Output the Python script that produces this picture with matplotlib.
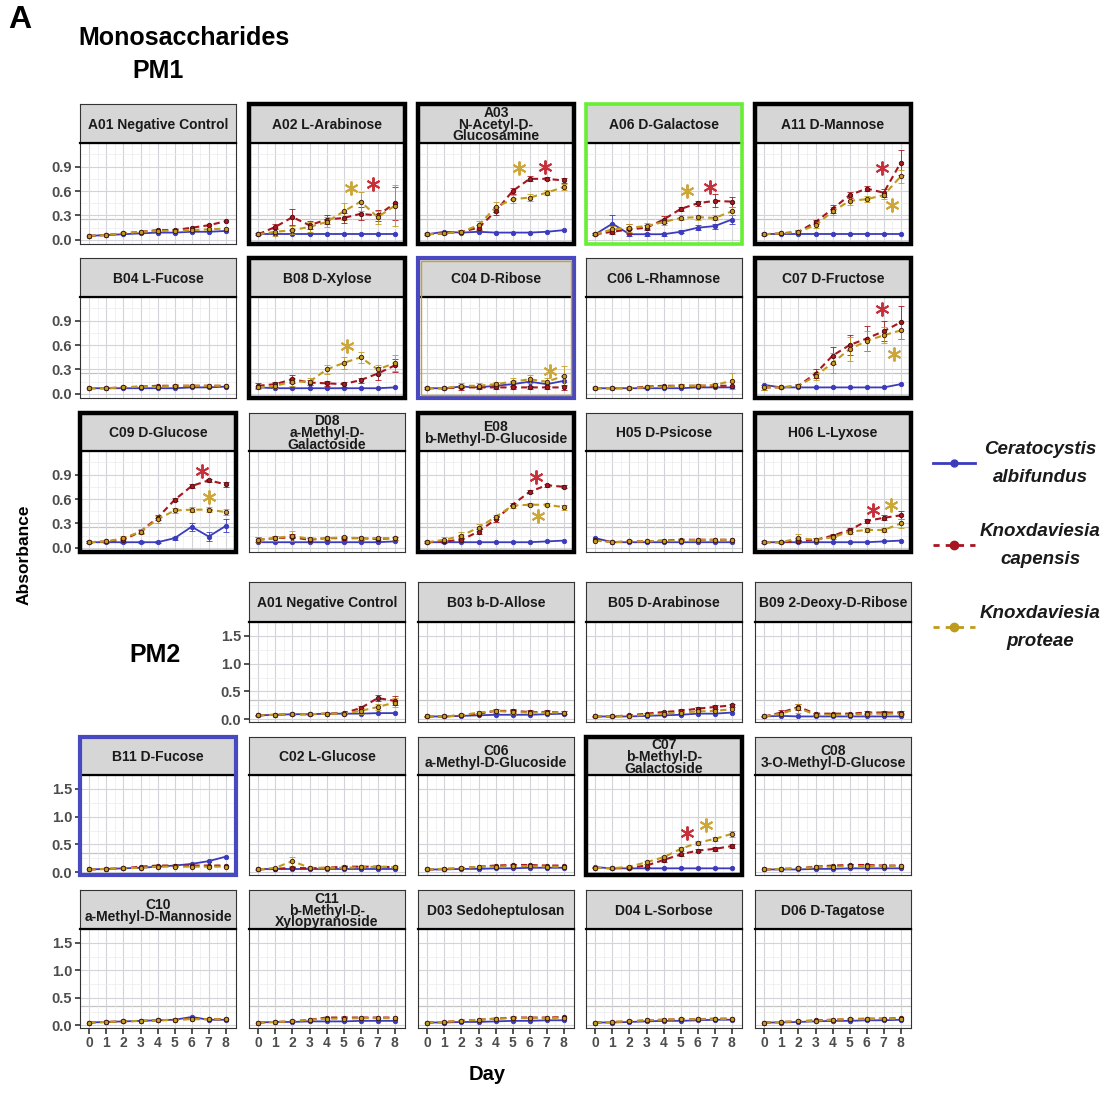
import matplotlib
matplotlib.use("Agg")
import matplotlib.pyplot as plt
from matplotlib.patches import Rectangle
from matplotlib.lines import Line2D

plt.rcParams['font.family'] = ['Liberation Sans', 'DejaVu Sans']

days = [0, 1, 2, 3, 4, 5, 6, 7, 8]

series_names = [("Ceratocystis", "albifundus"), ("Knoxdaviesia", "capensis"), ("Knoxdaviesia", "proteae")]

# ---- PM1 ----
pm1_titles = ["A01 Negative Control", "A02 L-Arabinose", "A03\nN-Acetyl-D-\nGlucosamine", "A06 D-Galactose", "A11 D-Mannose",
              "B04 L-Fucose", "B08 D-Xylose", "C04 D-Ribose", "C06 L-Rhamnose", "C07 D-Fructose",
              "C09 D-Glucose", "D08\na-Methyl-D-\nGalactoside", "E08\nb-Methyl-D-Glucoside", "H05 D-Psicose", "H06 L-Lyxose"]

pm1_ca = [[0.05, 0.06, 0.07, 0.08, 0.09, 0.09, 0.10, 0.10, 0.11],
          [0.07, 0.07, 0.07, 0.07, 0.07, 0.07, 0.07, 0.07, 0.07],
          [0.07, 0.10, 0.09, 0.10, 0.09, 0.09, 0.09, 0.10, 0.12],
          [0.07, 0.20, 0.07, 0.07, 0.07, 0.10, 0.15, 0.17, 0.25],
          [0.07, 0.07, 0.07, 0.07, 0.07, 0.07, 0.07, 0.07, 0.07],
          [0.07, 0.07, 0.07, 0.07, 0.07, 0.07, 0.08, 0.08, 0.09],
          [0.08, 0.07, 0.07, 0.07, 0.07, 0.07, 0.07, 0.07, 0.08],
          [0.07, 0.07, 0.09, 0.08, 0.10, 0.12, 0.15, 0.12, 0.16],
          [0.07, 0.07, 0.07, 0.07, 0.07, 0.07, 0.08, 0.08, 0.08],
          [0.11, 0.08, 0.08, 0.08, 0.08, 0.08, 0.08, 0.08, 0.12],
          [0.07, 0.07, 0.07, 0.07, 0.07, 0.12, 0.26, 0.14, 0.27],
          [0.07, 0.07, 0.07, 0.07, 0.07, 0.07, 0.07, 0.07, 0.08],
          [0.07, 0.07, 0.07, 0.07, 0.07, 0.07, 0.07, 0.08, 0.09],
          [0.12, 0.07, 0.07, 0.07, 0.07, 0.07, 0.07, 0.07, 0.07],
          [0.07, 0.07, 0.07, 0.07, 0.07, 0.07, 0.07, 0.08, 0.09]]

pm1_kc = [[0.05, 0.06, 0.08, 0.10, 0.12, 0.12, 0.15, 0.18, 0.23],
          [0.07, 0.16, 0.28, 0.18, 0.25, 0.27, 0.32, 0.30, 0.45],
          [0.07, 0.08, 0.10, 0.15, 0.35, 0.60, 0.75, 0.75, 0.73],
          [0.07, 0.10, 0.13, 0.15, 0.25, 0.38, 0.45, 0.48, 0.47],
          [0.07, 0.08, 0.10, 0.22, 0.38, 0.55, 0.63, 0.58, 0.95],
          [0.07, 0.07, 0.08, 0.09, 0.10, 0.10, 0.10, 0.10, 0.10],
          [0.10, 0.12, 0.18, 0.14, 0.13, 0.12, 0.17, 0.25, 0.35],
          [0.07, 0.07, 0.08, 0.08, 0.08, 0.08, 0.08, 0.08, 0.08],
          [0.07, 0.07, 0.07, 0.09, 0.10, 0.10, 0.10, 0.10, 0.10],
          [0.08, 0.08, 0.10, 0.25, 0.47, 0.60, 0.68, 0.77, 0.88],
          [0.07, 0.08, 0.10, 0.20, 0.37, 0.59, 0.76, 0.83, 0.78],
          [0.10, 0.12, 0.13, 0.10, 0.12, 0.12, 0.12, 0.11, 0.12],
          [0.07, 0.08, 0.10, 0.20, 0.35, 0.53, 0.69, 0.77, 0.75],
          [0.10, 0.07, 0.08, 0.08, 0.09, 0.10, 0.10, 0.10, 0.10],
          [0.07, 0.07, 0.08, 0.10, 0.15, 0.22, 0.33, 0.37, 0.40]]

pm1_kp = [[0.05, 0.06, 0.08, 0.10, 0.11, 0.11, 0.12, 0.13, 0.14],
          [0.07, 0.10, 0.12, 0.16, 0.22, 0.35, 0.47, 0.28, 0.42],
          [0.07, 0.08, 0.10, 0.18, 0.40, 0.50, 0.52, 0.58, 0.65],
          [0.07, 0.13, 0.15, 0.17, 0.22, 0.27, 0.28, 0.27, 0.35],
          [0.07, 0.08, 0.10, 0.18, 0.35, 0.48, 0.50, 0.55, 0.78],
          [0.07, 0.07, 0.08, 0.09, 0.09, 0.10, 0.10, 0.10, 0.10],
          [0.08, 0.10, 0.15, 0.15, 0.30, 0.38, 0.45, 0.30, 0.38],
          [0.07, 0.07, 0.10, 0.10, 0.12, 0.15, 0.18, 0.15, 0.22],
          [0.07, 0.07, 0.07, 0.08, 0.09, 0.10, 0.10, 0.11, 0.16],
          [0.08, 0.08, 0.10, 0.22, 0.38, 0.55, 0.65, 0.72, 0.78],
          [0.07, 0.08, 0.12, 0.20, 0.35, 0.46, 0.47, 0.47, 0.44],
          [0.10, 0.12, 0.15, 0.11, 0.12, 0.13, 0.12, 0.12, 0.12],
          [0.07, 0.10, 0.15, 0.25, 0.38, 0.52, 0.53, 0.53, 0.50],
          [0.09, 0.07, 0.08, 0.08, 0.09, 0.09, 0.10, 0.10, 0.10],
          [0.07, 0.07, 0.12, 0.10, 0.13, 0.20, 0.22, 0.22, 0.30]]

pm1_ca_err = [None, None, None,
              [0.01, 0.10, 0.02, 0.02, 0.02, 0.02, 0.03, 0.03, 0.05],
              None, None, None, None, None, None,
              [0.01, 0.01, 0.01, 0.01, 0.01, 0.02, 0.05, 0.05, 0.08],
              None, None, None, None]

pm1_kc_err = [None,
              [0.01, 0.03, 0.10, 0.05, 0.05, 0.06, 0.08, 0.07, 0.20],
              [0.01, 0.01, 0.02, 0.03, 0.05, 0.04, 0.03, 0.02, 0.03],
              [0.01, 0.03, 0.06, 0.03, 0.04, 0.03, 0.03, 0.08, 0.06],
              [0.01, 0.01, 0.02, 0.03, 0.05, 0.04, 0.03, 0.05, 0.15],
              None,
              [0.03, 0.03, 0.05, 0.03, 0.03, 0.03, 0.03, 0.08, 0.08],
              [0.01, 0.01, 0.03, 0.02, 0.02, 0.02, 0.02, 0.02, 0.03],
              None,
              [0.03, 0.01, 0.02, 0.05, 0.10, 0.12, 0.15, 0.12, 0.20],
              [0.01, 0.01, 0.02, 0.02, 0.03, 0.02, 0.02, 0.02, 0.03],
              [0.03, 0.03, 0.04, 0.02, 0.02, 0.02, 0.02, 0.02, 0.02],
              [0.01, 0.02, 0.02, 0.03, 0.03, 0.02, 0.02, 0.02, 0.02],
              None,
              [0.01, 0.01, 0.02, 0.02, 0.02, 0.02, 0.03, 0.03, 0.05]]

pm1_kp_err = [None,
              [0.01, 0.05, 0.05, 0.06, 0.06, 0.10, 0.12, 0.08, 0.25],
              [0.01, 0.01, 0.02, 0.05, 0.06, 0.05, 0.04, 0.03, 0.04],
              [0.01, 0.04, 0.05, 0.04, 0.04, 0.03, 0.03, 0.03, 0.05],
              [0.01, 0.01, 0.02, 0.03, 0.05, 0.05, 0.04, 0.05, 0.08],
              None,
              [0.02, 0.03, 0.05, 0.04, 0.05, 0.07, 0.07, 0.05, 0.10],
              [0.01, 0.01, 0.03, 0.03, 0.03, 0.05, 0.05, 0.05, 0.12],
              [0.01, 0.01, 0.01, 0.02, 0.02, 0.02, 0.02, 0.02, 0.10],
              [0.03, 0.01, 0.02, 0.05, 0.12, 0.15, 0.12, 0.10, 0.10],
              [0.01, 0.01, 0.03, 0.03, 0.04, 0.03, 0.03, 0.03, 0.04],
              [0.03, 0.03, 0.06, 0.02, 0.02, 0.02, 0.02, 0.02, 0.02],
              [0.01, 0.03, 0.04, 0.04, 0.03, 0.03, 0.02, 0.02, 0.03],
              None,
              [0.01, 0.01, 0.05, 0.02, 0.02, 0.03, 0.03, 0.03, 0.05]]

pm1_frames = ["thin", "bold", "bold", "green", "bold",
              "thin", "bold", "blue_gold", "thin", "bold",
              "bold", "thin", "bold", "thin", "bold"]

pm1_star_panel = [1, 1, 2, 2, 3, 3, 4, 4, 6, 7, 9, 9, 10, 10, 12, 12, 14, 14]
pm1_star_day = [5.45, 6.7, 5.4, 6.9, 5.4, 6.7, 6.9, 7.5, 5.2, 7.2, 6.9, 7.6, 6.6, 7.0, 6.4, 6.5, 6.4, 7.4]
pm1_star_y = [0.64, 0.69, 0.88, 0.90, 0.60, 0.65, 0.88, 0.43, 0.59, 0.28, 1.04, 0.49, 0.94, 0.62, 0.87, 0.39, 0.47, 0.53]
pm1_star_series = [2, 1, 2, 1, 2, 1, 1, 2, 2, 2, 1, 2, 1, 2, 1, 2, 1, 2]

# ---- PM2 ----
pm2_titles = ["A01 Negative Control", "B03 b-D-Allose", "B05 D-Arabinose", "B09 2-Deoxy-D-Ribose",
              "B11 D-Fucose", "C02 L-Glucose", "C06\na-Methyl-D-Glucoside", "C07\nb-Methyl-D-\nGalactoside",
              "C08\n3-O-Methyl-D-Glucose", "C10\na-Methyl-D-Mannoside", "C11\nb-Methyl-D-\nXylopyranoside",
              "D03 Sedoheptulosan", "D04 L-Sorbose", "D06 D-Tagatose"]

pm2_ca = [[0.07, 0.08, 0.09, 0.09, 0.10, 0.10, 0.10, 0.11, 0.11],
          [0.05, 0.05, 0.06, 0.07, 0.08, 0.08, 0.08, 0.09, 0.10],
          [0.05, 0.05, 0.05, 0.06, 0.07, 0.08, 0.10, 0.10, 0.12],
          [0.05, 0.06, 0.05, 0.05, 0.05, 0.05, 0.05, 0.05, 0.05],
          [0.05, 0.06, 0.07, 0.08, 0.10, 0.12, 0.15, 0.20, 0.28],
          [0.05, 0.05, 0.05, 0.05, 0.05, 0.05, 0.05, 0.05, 0.05],
          [0.05, 0.05, 0.06, 0.06, 0.07, 0.07, 0.08, 0.08, 0.08],
          [0.09, 0.07, 0.07, 0.07, 0.07, 0.07, 0.07, 0.07, 0.07],
          [0.05, 0.05, 0.05, 0.06, 0.06, 0.07, 0.07, 0.07, 0.07],
          [0.05, 0.06, 0.07, 0.08, 0.09, 0.10, 0.15, 0.10, 0.10],
          [0.05, 0.06, 0.06, 0.07, 0.07, 0.07, 0.08, 0.08, 0.08],
          [0.05, 0.05, 0.06, 0.06, 0.07, 0.08, 0.08, 0.09, 0.09],
          [0.05, 0.05, 0.06, 0.07, 0.08, 0.08, 0.09, 0.10, 0.10],
          [0.05, 0.05, 0.06, 0.07, 0.08, 0.08, 0.09, 0.09, 0.10]]

pm2_kc = [[0.07, 0.08, 0.09, 0.09, 0.10, 0.11, 0.20, 0.38, 0.33],
          [0.05, 0.05, 0.07, 0.10, 0.15, 0.15, 0.13, 0.13, 0.12],
          [0.05, 0.05, 0.07, 0.10, 0.13, 0.15, 0.19, 0.22, 0.25],
          [0.05, 0.12, 0.22, 0.10, 0.10, 0.10, 0.12, 0.12, 0.12],
          [0.05, 0.06, 0.07, 0.10, 0.12, 0.12, 0.12, 0.12, 0.12],
          [0.05, 0.06, 0.08, 0.07, 0.08, 0.10, 0.10, 0.10, 0.09],
          [0.05, 0.06, 0.07, 0.10, 0.12, 0.13, 0.13, 0.12, 0.12],
          [0.08, 0.07, 0.08, 0.12, 0.22, 0.32, 0.39, 0.42, 0.47],
          [0.05, 0.06, 0.07, 0.10, 0.12, 0.13, 0.13, 0.12, 0.12],
          [0.05, 0.06, 0.07, 0.08, 0.09, 0.10, 0.12, 0.11, 0.11],
          [0.05, 0.06, 0.07, 0.10, 0.14, 0.14, 0.14, 0.14, 0.14],
          [0.05, 0.06, 0.08, 0.10, 0.12, 0.14, 0.14, 0.14, 0.15],
          [0.05, 0.06, 0.07, 0.09, 0.10, 0.11, 0.11, 0.12, 0.12],
          [0.05, 0.06, 0.07, 0.09, 0.10, 0.11, 0.12, 0.12, 0.13]]

pm2_kp = [[0.07, 0.08, 0.09, 0.09, 0.10, 0.10, 0.15, 0.22, 0.30],
          [0.05, 0.05, 0.07, 0.12, 0.15, 0.13, 0.12, 0.12, 0.12],
          [0.05, 0.05, 0.06, 0.08, 0.10, 0.12, 0.14, 0.15, 0.18],
          [0.05, 0.10, 0.20, 0.08, 0.08, 0.08, 0.10, 0.10, 0.10],
          [0.05, 0.06, 0.07, 0.08, 0.10, 0.10, 0.10, 0.10, 0.10],
          [0.05, 0.08, 0.20, 0.08, 0.08, 0.08, 0.09, 0.10, 0.09],
          [0.05, 0.06, 0.07, 0.10, 0.10, 0.11, 0.11, 0.10, 0.10],
          [0.08, 0.07, 0.10, 0.18, 0.27, 0.42, 0.53, 0.60, 0.69],
          [0.05, 0.06, 0.07, 0.09, 0.10, 0.11, 0.11, 0.11, 0.11],
          [0.05, 0.06, 0.07, 0.08, 0.09, 0.10, 0.11, 0.11, 0.11],
          [0.05, 0.06, 0.07, 0.10, 0.12, 0.12, 0.13, 0.13, 0.13],
          [0.05, 0.06, 0.08, 0.10, 0.12, 0.13, 0.13, 0.13, 0.14],
          [0.05, 0.06, 0.07, 0.09, 0.10, 0.11, 0.11, 0.11, 0.12],
          [0.05, 0.06, 0.07, 0.08, 0.10, 0.11, 0.11, 0.12, 0.12]]

pm2_ca_err = [None] * 14
pm2_kc_err = [[0.01, 0.01, 0.01, 0.01, 0.01, 0.02, 0.03, 0.06, 0.08],
              [0.01, 0.01, 0.01, 0.02, 0.03, 0.03, 0.03, 0.03, 0.03],
              [0.01, 0.01, 0.01, 0.02, 0.02, 0.03, 0.03, 0.03, 0.03],
              [0.01, 0.05, 0.06, 0.02, 0.02, 0.02, 0.03, 0.03, 0.03],
              None, None, None,
              [0.01, 0.01, 0.02, 0.02, 0.03, 0.03, 0.03, 0.03, 0.03],
              None, None, None, None, None, None]
pm2_kp_err = [[0.01, 0.01, 0.01, 0.01, 0.01, 0.02, 0.05, 0.05, 0.08],
              [0.01, 0.01, 0.01, 0.02, 0.03, 0.03, 0.03, 0.03, 0.03],
              None,
              [0.01, 0.03, 0.08, 0.02, 0.02, 0.02, 0.02, 0.02, 0.02],
              None,
              [0.01, 0.02, 0.08, 0.02, 0.02, 0.02, 0.02, 0.02, 0.02],
              None,
              [0.01, 0.01, 0.02, 0.03, 0.03, 0.04, 0.04, 0.04, 0.06],
              None, None, None, None, None, None]

pm2_frames = ["thin", "thin", "thin", "thin",
              "blue", "thin", "thin", "bold", "thin",
              "thin", "thin", "thin", "thin", "thin"]

pm2_star_panel = [7, 7]
pm2_star_day = [5.4, 6.5]
pm2_star_y = [0.71, 0.85]
pm2_star_series = [1, 2]

# ---- styling ----
COLORS = ["#3b3bbd", "#a8141f", "#bf9b1c"]
STAR_COLORS = ["#3b3bbd", "#c5303b", "#cda63a"]
W, H = 1117, 1095

fig = plt.figure(figsize=(W / 100, H / 100), dpi=100)

col_left = [80, 249, 418, 586, 755]
col_w = 156
pm1_rows = [(104, 143, 244), (258, 297, 398), (413, 451, 552)]
pm2_rows = [(582, 622, 722), (737, 775, 875), (890, 929, 1028)]


def fx(px):
    return px / W


def fy(py):
    return 1 - py / H


def make_panel(left, top, strip_bot, bottom, title, ca, kc, kp, errs, ylim, yticks,
               show_y, show_x, frame, hline):
    ax = fig.add_axes([fx(left), fy(bottom), col_w / W, (bottom - strip_bot) / H])
    st = fig.add_axes([fx(left), fy(strip_bot), col_w / W, (strip_bot - top) / H])
    st.set_facecolor("#d6d6d6")
    st.set_xticks([])
    st.set_yticks([])
    for s in st.spines.values():
        s.set_color("#333333")
        s.set_linewidth(0.8)
    st.spines["bottom"].set_color("black")
    st.spines["bottom"].set_linewidth(1.6)
    st.text(0.5, 0.47, title, ha="center", va="center", fontsize=10, fontweight="bold",
            linespacing=0.8, color="#1a1a1a", transform=st.transAxes)

    ax.set_xlim(-0.55, 8.6)
    ax.set_ylim(*ylim)
    ax.set_xticks(days)
    ax.set_xticks([d + 0.5 for d in days[:-1]], minor=True)
    ax.set_yticks(yticks)
    step = yticks[1] - yticks[0]
    ax.set_yticks([t + step / 2 for t in yticks], minor=True)
    ax.grid(which="major", color="#d3d3da", lw=0.8)
    ax.grid(which="minor", color="#ececf0", lw=0.5)
    ax.set_axisbelow(True)
    ax.axhline(hline, color="#c4c4c4", lw=0.9, zorder=0.5)
    for s in ax.spines.values():
        s.set_color("#333333")
        s.set_linewidth(0.8)
    ax.tick_params(which="minor", length=0)
    ax.tick_params(axis="y", length=3.5, width=1.2, color="#333333", pad=2)
    ax.tick_params(axis="x", length=4, width=1.2, color="#333333", pad=2)
    if show_y:
        ax.set_yticklabels([f"{t:.1f}" for t in yticks], fontsize=10.5, fontweight="bold", color="#4d4d4d")
    else:
        ax.tick_params(axis="y", length=0, labelleft=False)
    if show_x:
        ax.set_xticklabels([str(d) for d in days], fontsize=10, fontweight="bold", color="#4d4d4d")
    else:
        ax.tick_params(axis="x", length=0, labelbottom=False)

    styles = [dict(ls="-", lw=1.3), dict(ls=(0, (3, 2)), lw=1.5), dict(ls=(0, (3, 2)), lw=1.5)]
    order = [0, 2, 1]
    vals = [ca, kc, kp]
    for i in order:
        ax.plot(days, vals[i], color=COLORS[i], marker="o", ms=3.2, mec=COLORS[i] if i == 0 else "#3a1010",
                mew=0.6, zorder=3 + i, **styles[i])
        if errs[i] is not None:
            ax.errorbar(days, vals[i], yerr=errs[i], fmt="none", ecolor=COLORS[i], elinewidth=0.7,
                        capsize=2, capthick=0.7, alpha=0.85, zorder=2 + i)

    # frame
    lw_map = {"thin": None, "bold": ("black", 3.2), "green": ("#66f033", 2.6),
              "blue": ("#4848c0", 3.0), "blue_gold": ("#4848c0", 3.0)}
    spec = lw_map[frame]
    if spec is not None:
        rect = Rectangle((fx(left), fy(bottom)), col_w / W, (bottom - top) / H, transform=fig.transFigure,
                         fill=False, ec=spec[0], lw=spec[1], zorder=10)
        fig.add_artist(rect)
        if frame == "blue_gold":
            inner = Rectangle((fx(left + 3), fy(bottom - 3)), (col_w - 6) / W, (bottom - top - 6) / H,
                              transform=fig.transFigure, fill=False, ec="#c8a030", lw=1.0, zorder=10)
            fig.add_artist(inner)
    return ax


def add_stars(axes, panels, sdays, sys, sser):
    for p, d, y, s in zip(panels, sdays, sys, sser):
        axes[p].plot([d], [y], marker=(6, 2, 0), ms=10, mew=1.4, color=STAR_COLORS[s], zorder=8)


# PM1 grid
pm1_axes = []
for k in range(15):
    r, c = divmod(k, 5)
    top, sb, bot = pm1_rows[r]
    a = make_panel(col_left[c], top, sb, bot, pm1_titles[k], pm1_ca[k], pm1_kc[k], pm1_kp[k],
                   [pm1_ca_err[k], pm1_kc_err[k], pm1_kp_err[k]], (-0.05, 1.19), [0.0, 0.3, 0.6, 0.9],
                   c == 0, False, pm1_frames[k], 0.26)
    pm1_axes.append(a)
add_stars(pm1_axes, pm1_star_panel, pm1_star_day, pm1_star_y, pm1_star_series)

# PM2 grid: first row starts in column 2
pm2_slots = [(0, 1), (0, 2), (0, 3), (0, 4)] + [(1, c) for c in range(5)] + [(2, c) for c in range(5)]
pm2_axes = []
for k, (r, c) in enumerate(pm2_slots):
    top, sb, bot = pm2_rows[r]
    first = (r == 0 and c == 1) or (r > 0 and c == 0)
    a = make_panel(col_left[c], top, sb, bot, pm2_titles[k], pm2_ca[k], pm2_kc[k], pm2_kp[k],
                   [pm2_ca_err[k], pm2_kc_err[k], pm2_kp_err[k]], (-0.05, 1.6), [0.0, 0.5, 1.0, 1.5],
                   first, r == 2, pm2_frames[k], 0.35)
    pm2_axes.append(a)
add_stars(pm2_axes, pm2_star_panel, pm2_star_day, pm2_star_y, pm2_star_series)

# titles and labels
fig.text(fx(8), fy(20), "A", fontsize=23, fontweight="bold", va="center", ha="left")
fig.text(fx(78), fy(38), "Monosaccharides", fontsize=18, fontweight="bold", va="center", ha="left")
fig.text(fx(158), fy(71), "PM1", fontsize=18, fontweight="bold", va="center", ha="center")
fig.text(fx(155), fy(655), "PM2", fontsize=18, fontweight="bold", va="center", ha="center")
fig.text(fx(24), fy(555), "Absorbance", fontsize=12.5, fontweight="bold", rotation=90, va="center", ha="center")
fig.text(fx(487), fy(1075), "Day", fontsize=14.5, fontweight="bold", va="center", ha="center")

# legend
leg_y = [463, 545, 627]
for i, (g, sp) in enumerate(series_names):
    yy = fy(leg_y[i])
    ls = "-" if i == 0 else (0, (2.2, 2.2))
    fig.add_artist(Line2D([fx(933), fx(975)], [yy, yy], color=COLORS[i], lw=2.0, ls=ls,
                          transform=fig.transFigure))
    fig.add_artist(Line2D([fx(954)], [yy], color=COLORS[i], marker="o", ms=5 if i == 0 else 6,
                          transform=fig.transFigure))
    fig.text(fx(1040), fy(leg_y[i] - 14), g, fontsize=13.5, fontweight="bold", style="italic",
             va="center", ha="center", color="#1a1a1a")
    fig.text(fx(1040), fy(leg_y[i] + 14), sp, fontsize=13.5, fontweight="bold", style="italic",
             va="center", ha="center", color="#1a1a1a")

fig.savefig("out.png", dpi=100, facecolor="white")
